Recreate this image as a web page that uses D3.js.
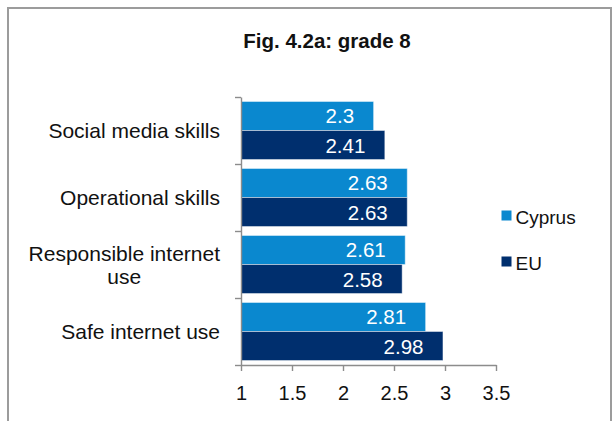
<!DOCTYPE html>
<html>
<head>
<meta charset="utf-8">
<script src="https://cdn.jsdelivr.net/npm/d3@7"></script>
<style>
  html, body { margin: 0; padding: 0; background: #fff; }
  svg { display: block; font-family: "Liberation Sans", Arial, sans-serif; }
</style>
</head>
<body>
<svg id="chart" width="613" height="421"></svg>
<script>
// Chart data
const title = "Fig. 4.2a: grade 8";
const categories = ["Social media skills", "Operational skills", "Responsible internet use", "Safe internet use"];
const seriesNames = ["Cyprus", "EU"];
const cyprusValues = [2.3, 2.63, 2.61, 2.81];
const euValues = [2.41, 2.63, 2.58, 2.98];
const xTickValues = [1, 1.5, 2, 2.5, 3, 3.5];
const xTickLabels = ["1", "1.5", "2", "2.5", "3", "3.5"];
const seriesColors = ["#0a88cf", "#002f6e"];

const seriesValues = [cyprusValues, euValues];
const rows = categories.flatMap((c, i) =>
  seriesNames.map((s, j) => ({ category: c, series: s, value: seriesValues[j][i], color: seriesColors[j] })));

const svg = d3.select("#chart");
const axisColor = "#8c8c8c";

// Outer frame
svg.append("rect")
  .attr("x", 8).attr("y", 8)
  .attr("width", 603).attr("height", 430)
  .attr("fill", "none").attr("stroke", "#9c9c9c").attr("stroke-width", 2);

// Title
svg.append("text")
  .attr("x", 327).attr("y", 48)
  .attr("text-anchor", "middle")
  .attr("font-weight", "bold")
  .attr("font-size", 20.5)
  .attr("fill", "#111")
  .text(title);

// Plot geometry
const plotLeft = 241, plotRight = 496, plotTop = 97, plotBottom = 365;

const x = d3.scaleLinear().domain([1, 3.5]).range([plotLeft, plotRight]);
const y = d3.scaleBand().domain(categories).range([plotTop, plotBottom])
  .paddingInner(0.134).paddingOuter(0.067);
const ySub = d3.scaleBand().domain(seriesNames).range([0, y.bandwidth()]);
const yIndex = d3.scaleLinear().domain([0, categories.length]).range([plotTop, plotBottom]);

// Bars
const bars = svg.append("g");
bars.selectAll("rect")
  .data(rows)
  .join("rect")
  .attr("x", x(1))
  .attr("y", d => y(d.category) + ySub(d.series))
  .attr("width", d => x(d.value) - x(1))
  .attr("height", ySub.bandwidth())
  .attr("fill", d => d.color)
  .attr("stroke", "rgba(255,255,255,0.45)")
  .attr("stroke-width", 1);

// Value labels inside bar ends
bars.selectAll("text")
  .data(rows)
  .join("text")
  .attr("x", d => x(d.value) - 19.5)
  .attr("y", d => y(d.category) + ySub(d.series) + ySub.bandwidth() / 2 + 7.5)
  .attr("text-anchor", "end")
  .attr("font-size", 20.5)
  .attr("fill", "#fff")
  .text(d => String(d.value));

// X axis
const xAxis = svg.append("g")
  .attr("transform", `translate(0,${plotBottom})`)
  .call(d3.axisBottom(x)
    .tickValues(xTickValues)
    .tickFormat((d, i) => xTickLabels[i])
    .tickSize(6).tickSizeOuter(0).tickPadding(15));
xAxis.select(".domain").attr("stroke", axisColor).attr("stroke-width", 1.4);
xAxis.selectAll(".tick line").attr("stroke", axisColor).attr("stroke-width", 1.4);
xAxis.selectAll(".tick text")
  .attr("font-size", 20).attr("fill", "#111")
  .attr("font-family", "'Liberation Sans', Arial, sans-serif");

// Y axis with ticks on category boundaries
const yAxis = svg.append("g")
  .attr("transform", `translate(${plotLeft},0)`)
  .call(d3.axisLeft(yIndex)
    .ticks(categories.length)
    .tickFormat("")
    .tickSize(6).tickSizeOuter(0));
yAxis.select(".domain").attr("stroke", axisColor).attr("stroke-width", 1.4);
yAxis.selectAll(".tick line").attr("stroke", axisColor).attr("stroke-width", 1.4);

// Category labels, wrapped when too wide; lines centered within the block
const labelRight = 220, maxLabelWidth = 200, lineHeight = 23, catFont = 21;
const labels = svg.append("g").attr("font-size", catFont).attr("fill", "#111");
categories.forEach(c => {
  const words = c.split(" ");
  const probe = labels.append("text");
  const lines = [];
  let cur = [];
  words.forEach(w => {
    const test = cur.concat(w).join(" ");
    probe.text(test);
    if (probe.node().getComputedTextLength() > maxLabelWidth && cur.length) {
      lines.push(cur.join(" "));
      cur = [w];
    } else {
      cur.push(w);
    }
  });
  lines.push(cur.join(" "));
  const widths = lines.map(l => { probe.text(l); return probe.node().getComputedTextLength(); });
  probe.remove();
  const blockW = d3.max(widths);
  const cx = labelRight - blockW / 2;
  const cy = y(c) + y.bandwidth() / 2;
  const first = cy - (lines.length - 1) * lineHeight / 2 + 7.5;
  const t = labels.append("text").attr("text-anchor", "middle");
  lines.forEach((l, i) => {
    t.append("tspan").attr("x", cx).attr("y", first + i * lineHeight).text(l);
  });
});

// Legend
const legend = svg.append("g").attr("font-size", 19).attr("fill", "#111");
seriesNames.forEach((s, i) => {
  const ly = 210.5 + i * 46;
  legend.append("rect")
    .attr("x", 501.5).attr("y", ly)
    .attr("width", 10).attr("height", 10)
    .attr("fill", seriesColors[i]);
  legend.append("text")
    .attr("x", 515.5).attr("y", ly + 13.5)
    .text(s);
});
</script>
</body>
</html>
